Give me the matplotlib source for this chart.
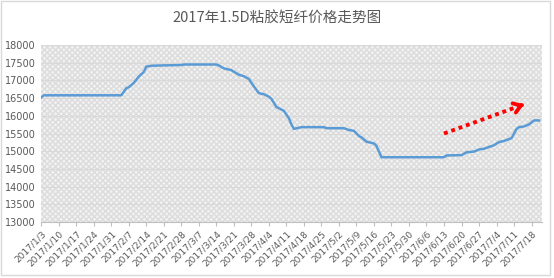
import matplotlib
matplotlib.use("Agg")
import matplotlib.pyplot as plt
import matplotlib.dates as mdates
import pandas as pd
from matplotlib.patches import Rectangle

plt.rcParams['font.family'] = ['Noto Sans CJK SC', 'DejaVu Sans']

title = "2017年1.5D粘胶短纤价格走势图"

dates = ["2017-01-03", "2017-01-04", "2017-02-04", "2017-02-06", "2017-02-07", "2017-02-09",
         "2017-02-11", "2017-02-13", "2017-02-14", "2017-02-16", "2017-02-21", "2017-02-28",
         "2017-03-01", "2017-03-14", "2017-03-15", "2017-03-17", "2017-03-20", "2017-03-23",
         "2017-03-25", "2017-03-27", "2017-03-29", "2017-03-31", "2017-04-02", "2017-04-04",
         "2017-04-05", "2017-04-07", "2017-04-10", "2017-04-12", "2017-04-13", "2017-04-14",
         "2017-04-17", "2017-04-26", "2017-04-27", "2017-05-04", "2017-05-06", "2017-05-08",
         "2017-05-10", "2017-05-11", "2017-05-13", "2017-05-16", "2017-05-17", "2017-05-19",
         "2017-06-13", "2017-06-14", "2017-06-20", "2017-06-22", "2017-06-25", "2017-06-27",
         "2017-06-29", "2017-07-01", "2017-07-03", "2017-07-05", "2017-07-07", "2017-07-10",
         "2017-07-12", "2017-07-13", "2017-07-15", "2017-07-17", "2017-07-19", "2017-07-21"]
prices = [16520, 16580, 16580, 16780, 16810, 16930,
          17110, 17240, 17390, 17415, 17425, 17435,
          17450, 17450, 17420, 17340, 17290, 17160,
          17120, 17040, 16830, 16640, 16610, 16540,
          16480, 16250, 16140, 15930, 15760, 15630,
          15680, 15680, 15650, 15650, 15600, 15575,
          15430, 15390, 15270, 15220, 15150, 14830,
          14830, 14880, 14890, 14970, 14990, 15050,
          15070, 15120, 15170, 15260, 15290, 15370,
          15630, 15680, 15700, 15760, 15870, 15870]

tick_dates = pd.date_range("2017-01-03", "2017-07-18", freq="7D")
tick_labels = [f"{d.year}/{d.month}/{d.day}" for d in tick_dates]
yticks = list(range(13000, 18001, 500))

arrow_start = ("2017-06-13", 15500)
arrow_end = ("2017-07-16", 16350)

x = pd.to_datetime(dates)

fig = plt.figure(figsize=(5.54, 2.78), dpi=100)
fig.patches.append(Rectangle((0.002, 0.01), 0.99, 0.985, transform=fig.transFigure,
                             fill=False, edgecolor='#d9d9d9', lw=1))
ax = fig.add_axes([0.074, 0.2014, 0.904, 0.6366])

ax.set_facecolor('#f2f2f2')
bg = Rectangle((0, 0), 1, 1, transform=ax.transAxes, facecolor='none',
               edgecolor='#dcdcdc', hatch='xxxxxx', lw=0, zorder=0)
ax.add_patch(bg)

for yv in yticks:
    ax.axhline(yv, color='#d9d9d9', lw=0.8, zorder=1)

ax.plot(x, prices, color='#5b9bd5', lw=1.8, zorder=3)

a0 = (mdates.date2num(pd.Timestamp(arrow_start[0])), arrow_start[1])
a1 = (mdates.date2num(pd.Timestamp(arrow_end[0])), arrow_end[1])
ax.plot([a0[0], a1[0] - 1.5], [a0[1], a1[1] - 38], color='#ff0000', lw=2.8,
        linestyle=(0, (1, 1)), zorder=4)
ax.annotate("", xy=a1, xytext=(a1[0] - 3, a1[1] - 77),
            arrowprops=dict(arrowstyle='->,head_length=0.5,head_width=0.35',
                            color='#ff0000', lw=2.8), zorder=5)

ax.set_ylim(13000, 18000)
ax.set_xlim(mdates.date2num(pd.Timestamp("2017-01-03")) - 0.1,
            mdates.date2num(pd.Timestamp("2017-01-03")) + 200.1)
ax.set_yticks(yticks)
ax.set_yticklabels([str(v) for v in yticks], fontsize=7, color='#595959', family='DejaVu Sans')
ax.set_xticks(mdates.date2num(tick_dates))
ax.set_xticklabels(tick_labels, rotation=45, ha='right', rotation_mode='anchor',
                   fontsize=6.5, color='#595959', family='DejaVu Sans')
ax.tick_params(axis='y', length=0, pad=4)
ax.tick_params(axis='x', length=3, color='#bfbfbf', pad=2)
for s in ['top', 'right', 'left']:
    ax.spines[s].set_visible(False)
ax.spines['bottom'].set_color('#bfbfbf')
ax.spines['bottom'].set_linewidth(0.8)

fig.text(0.5, 0.935, title, ha='center', va='center', fontsize=10.5, color='#595959')

fig.savefig("out.png", dpi=100)
